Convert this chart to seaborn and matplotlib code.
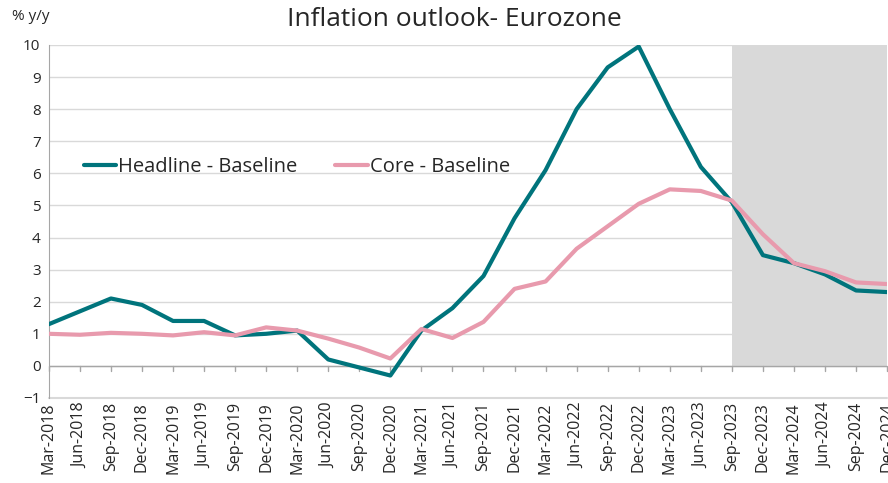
import numpy as np
import pandas as pd
import seaborn as sns
import matplotlib.pyplot as plt

quarters = ["Mar-2018", "Jun-2018", "Sep-2018", "Dec-2018",
            "Mar-2019", "Jun-2019", "Sep-2019", "Dec-2019",
            "Mar-2020", "Jun-2020", "Sep-2020", "Dec-2020",
            "Mar-2021", "Jun-2021", "Sep-2021", "Dec-2021",
            "Mar-2022", "Jun-2022", "Sep-2022", "Dec-2022",
            "Mar-2023", "Jun-2023", "Sep-2023", "Dec-2023",
            "Mar-2024", "Jun-2024", "Sep-2024", "Dec-2024"]

headline = [1.3, 1.7, 2.1, 1.9, 1.4, 1.4, 0.95, 1.0, 1.1, 0.2, -0.05, -0.3,
            1.1, 1.8, 2.8, 4.6, 6.1, 8.0, 9.3, 9.95, 8.0, 6.2, 5.1, 3.45,
            3.2, 2.85, 2.35, 2.3]

core = [1.0, 0.97, 1.03, 1.0, 0.95, 1.05, 0.95, 1.2, 1.1, 0.85, 0.57, 0.23,
        1.15, 0.87, 1.37, 2.4, 2.63, 3.65, 4.35, 5.05, 5.5, 5.45, 5.15, 4.1,
        3.2, 2.95, 2.6, 2.55]

forecast_start = "Sep-2023"

df = pd.DataFrame({
    "idx": list(range(len(quarters))) * 2,
    "value": headline + core,
    "series": ["Headline - Baseline"] * len(quarters) + ["Core - Baseline"] * len(quarters),
})

sns.set_style("white")
plt.rcParams["font.family"] = ["Open Sans", "DejaVu Sans"]

fig, ax = plt.subplots(figsize=(8.88, 4.83), dpi=100)
fig.subplots_adjust(left=0.055, right=0.999, top=0.907, bottom=0.176)

# shaded forecast period (from zero line up)
ax.axvspan(quarters.index(forecast_start), len(quarters) - 1, ymin=1 / 11, ymax=1,
           color="#D9D9D9", lw=0, zorder=0)

sns.lineplot(data=df, x="idx", y="value", hue="series",
             palette={"Headline - Baseline": "#00747C", "Core - Baseline": "#E89AAD"},
             linewidth=3, ax=ax, zorder=3)

ax.set_xlim(0, len(quarters) - 1)
ax.set_ylim(-1, 10)
ax.set_yticks(range(-1, 11))
ax.yaxis.grid(True, color="#D9D9D9", lw=1)
ax.axhline(-1, color="#D9D9D9", lw=1.5, zorder=1, clip_on=False)
ax.set_axisbelow(True)
ax.set_xticks(range(len(quarters)))
ax.set_xticklabels(quarters, rotation=90, fontsize=11.5)
ax.tick_params(axis="y", labelsize=11, length=0, pad=6)
ax.tick_params(axis="x", length=0, pad=3)
ax.set_xlabel("")
ax.set_ylabel("")

for s in ["top", "right", "bottom"]:
    ax.spines[s].set_visible(False)
ax.spines["left"].set_color("#A6A6A6")
ax.axhline(0, color="#A6A6A6", lw=1, zorder=2)
for i in range(len(quarters)):
    ax.plot([i, i], [0, -0.17], color="#A6A6A6", lw=1, clip_on=False, zorder=2)

fig.text(0.014, 0.958, "% y/y", fontsize=11)
fig.suptitle("Inflation outlook- Eurozone", fontsize=19, x=0.512, y=0.985)

leg = ax.legend(loc="center left", bbox_to_anchor=(0.02, 0.655), ncol=2, frameon=False,
                fontsize=14.5, handlelength=1.6, handletextpad=0.1, columnspacing=1.9)
for line in leg.get_lines():
    line.set_linewidth(3)

fig.savefig("out.png", dpi=100)
